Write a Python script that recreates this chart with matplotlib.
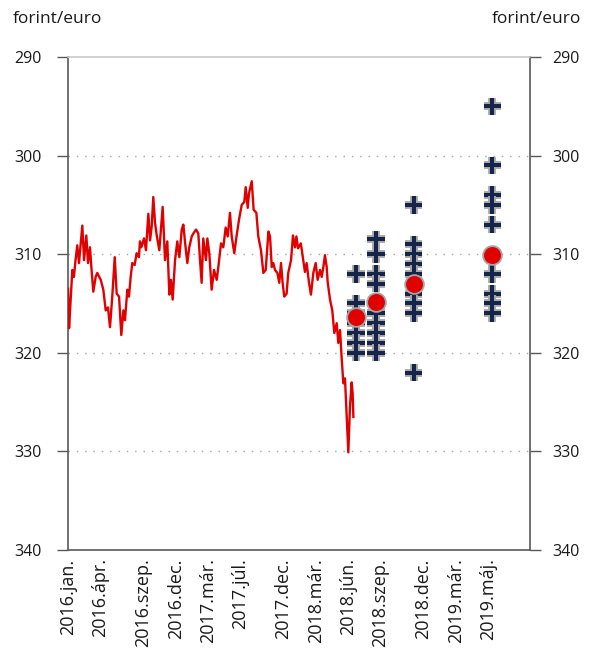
import matplotlib
matplotlib.use("Agg")
import matplotlib.pyplot as plt
import matplotlib.patheffects as pe

plt.rcParams['font.family'] = ['Open Sans', 'DejaVu Sans']

# ---- data ----
tick_labels = ['2016.jan.', '2016.ápr.', '2016.szep.', '2016.dec.', '2017.már.', '2017.júl.',
               '2017.dec.', '2018.már.', '2018.jún.', '2018.szep.', '2018.dec.', '2019.már.', '2019.máj.']
tick_pos = [0, 3, 7, 10, 13, 16, 20, 23, 26, 29, 33, 36, 39]

rate_x = [0.0, 0.05, 0.1, 0.25, 0.4, 0.55, 0.7, 0.86, 1.02, 1.18, 1.33, 1.49, 1.70, 1.86, 2.04, 2.17,
          2.35, 2.57, 2.72, 3.04, 3.28, 3.50, 3.71, 3.90, 4.11, 4.34, 4.52, 4.74, 4.95, 5.14, 5.29,
          5.51, 5.66, 5.82, 5.97, 6.19, 6.37, 6.59, 6.68, 6.81, 7.06, 7.24, 7.46, 7.62, 7.77, 7.92,
          8.08, 8.24, 8.48, 8.79, 9.01, 9.22, 9.41, 9.56, 9.72, 9.94, 10.15, 10.34, 10.56, 10.71,
          10.86, 11.08, 11.26, 11.49, 11.64, 11.89, 12.10, 12.26, 12.41, 12.56, 12.81, 12.94, 13.12,
          13.34, 13.56, 13.81, 13.96, 14.21, 14.42, 14.64, 14.83, 15.04, 15.20, 15.44, 15.66, 15.88,
          16.13, 16.37, 16.50, 16.69, 16.81, 17.06, 17.24, 17.49, 17.67, 17.92, 18.14, 18.36, 18.61,
          18.76, 18.92, 19.07, 19.22, 19.44, 19.62, 19.78, 19.93, 20.08, 20.30, 20.45, 20.71, 20.89,
          21.08, 21.21, 21.36, 21.62, 21.84, 22.00, 22.16, 22.38, 22.56, 22.78, 23.00, 23.18, 23.40,
          23.56, 23.71, 23.86, 24.02, 24.11, 24.33, 24.54, 24.73, 24.95, 25.10, 25.26, 25.42, 25.57,
          25.72, 25.88, 26.03, 26.18, 26.34, 26.43, 26.50]
rate_y = [313.5, 315.3, 317.5, 314.6, 311.6, 312.3, 310.6, 309.1, 310.9, 308.9, 307.1, 310.6, 308.1,
          310.9, 309.3, 311.3, 313.8, 312.3, 311.9, 312.6, 313.6, 315.7, 315.4, 317.4, 314.3, 310.3,
          314.0, 314.3, 318.2, 315.7, 316.7, 313.6, 314.3, 312.3, 310.9, 311.1, 309.9, 310.3, 308.7,
          309.3, 308.4, 309.6, 305.9, 308.6, 307.2, 304.2, 306.8, 308.1, 309.6, 305.2, 310.6, 308.7,
          314.1, 312.6, 314.6, 310.6, 308.7, 310.3, 307.5, 307.0, 308.7, 310.9, 309.3, 308.2, 307.9,
          307.5, 307.9, 310.6, 312.9, 308.4, 310.6, 308.4, 309.9, 313.6, 311.6, 312.6, 311.3, 308.9,
          309.3, 307.3, 308.2, 305.8, 308.2, 309.9, 308.1, 306.5, 305.0, 304.7, 303.2, 305.3, 303.8,
          302.6, 305.5, 305.8, 308.2, 309.6, 311.9, 311.6, 307.7, 308.2, 311.3, 310.9, 311.6, 311.9,
          312.9, 310.9, 312.9, 314.3, 314.0, 311.9, 310.6, 308.1, 309.3, 308.2, 309.4, 308.9, 310.6,
          311.8, 310.9, 312.9, 314.1, 311.9, 310.9, 312.6, 311.6, 312.3, 311.3, 310.1, 311.3, 312.8,
          314.6, 315.7, 318.0, 317.0, 319.0, 317.7, 320.7, 323.1, 322.6, 326.5, 330.1, 325.5, 323.0,
          324.1, 326.5]

forecast_pos = [26.74, 28.6, 32.1, 39.4]
forecasts = [
    [312, 315, 316, 317, 318, 319, 320],
    [308.5, 310, 312, 313, 315, 316, 317, 318, 319, 320],
    [305, 309, 310, 311, 312, 314, 315, 316, 322],
    [295, 301, 304, 305, 307, 310, 312, 314, 315, 316],
]
forecast_mean = [316.4, 314.8, 313.0, 310.1]

y_ticks = [290, 300, 310, 320, 330, 340]

# ---- figure ----
fig = plt.figure(figsize=(5.91, 6.66), dpi=100)
ax = fig.add_axes([68 / 591, 1 - 550 / 666, (530 - 68) / 591, (550 - 57) / 666])

spine_col = '#595959'
ax.set_xlim(0, 42.9)
ax.set_ylim(340, 290)

for y in [300, 310, 320, 330]:
    ax.axhline(y, color='#a6a6a6', lw=1.0, ls=(0, (1, 5)), zorder=1)

ax.plot(rate_x, rate_y, color='#e00000', lw=1.7, zorder=3)

cross_pe = [pe.withStroke(linewidth=5.6, foreground='#a8a8a8')]
for pos, vals in zip(forecast_pos, forecasts):
    ax.plot([pos] * len(vals), vals, ls='none', marker='+', ms=12.5, mew=2.9,
            color='#14244a', path_effects=cross_pe, zorder=4)
ax.plot(forecast_pos, forecast_mean, ls='none', marker='o', ms=13.5, mfc='#e00000',
        mec='#a6a6a6', mew=1.3, zorder=5)

ax.set_xticks(tick_pos)
ax.set_xticklabels(tick_labels, rotation=90, fontsize=13, color='#1a1a1a')
ax.tick_params(axis='x', length=0, pad=6)

ax.set_yticks(y_ticks)
ax.set_yticklabels([str(v) for v in y_ticks], fontsize=11.5, color='#1a1a1a')
ax.tick_params(axis='y', direction='out', length=8, width=1.0, color=spine_col, pad=11)

for s in ['left', 'right', 'bottom']:
    ax.spines[s].set_color(spine_col)
    ax.spines[s].set_linewidth(1.2)
ax.spines['top'].set_color('#c8c8c8')
ax.spines['top'].set_linewidth(1.2)

ax2 = ax.twinx()
ax2.set_ylim(340, 290)
ax2.set_yticks(y_ticks)
ax2.set_yticklabels([str(v) for v in y_ticks], fontsize=11.5, color='#1a1a1a')
ax2.tick_params(axis='y', direction='out', length=8, width=1.0, color=spine_col, pad=8)
for s in ax2.spines.values():
    s.set_visible(False)

fig.text(13 / 591, 1 - 19 / 666, 'forint/euro', fontsize=12.5, ha='left', va='center', color='#1a1a1a')
fig.text(581 / 591, 1 - 19 / 666, 'forint/euro', fontsize=12.5, ha='right', va='center', color='#1a1a1a')

fig.savefig('out.png', dpi=100)
